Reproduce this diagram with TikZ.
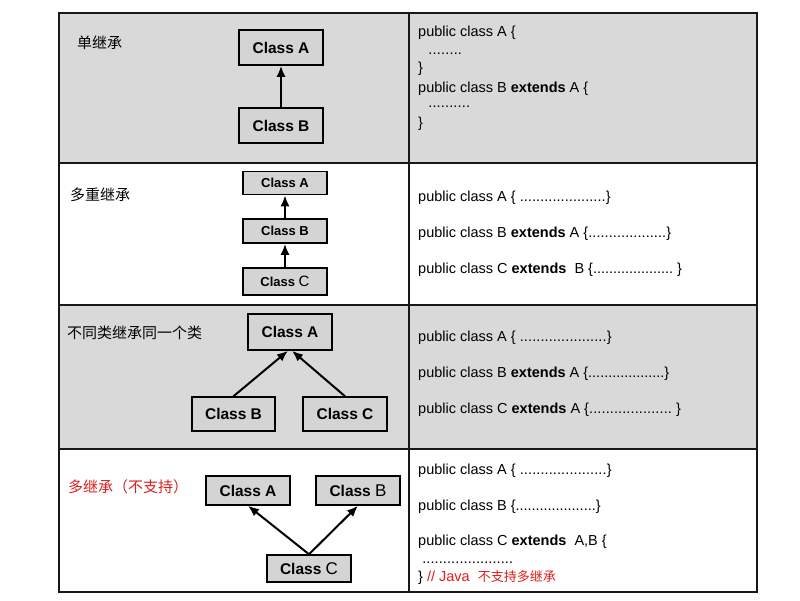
\documentclass[tikz,border=0pt]{standalone}
\usepackage{fontspec}
\setmainfont{Liberation Sans}
\newfontfamily\cjk{Noto Sans CJK SC}
\usetikzlibrary{arrows.meta}
\definecolor{bggray}{RGB}{217,217,217}
\definecolor{boxgray}{RGB}{212,212,212}
\definecolor{redtxt}{RGB}{222,30,30}
\definecolor{linecol}{RGB}{25,25,25}
\newcommand\dts[1]{\hbox to #1pt{\xleaders\hbox to 4pt{\hss.\hss}\hfill}}
\begin{document}
\begin{tikzpicture}[x=1pt,y=-1pt,
  grid/.style={draw=linecol,line width=2pt},
  cls/.style={draw=black,line width=1.5pt,fill=boxgray,inner sep=0pt,
    font=\fontsize{15.5}{17}\selectfont\bfseries},
  clssmall/.style={cls,font=\fontsize{13}{15}\selectfont\bfseries},
  code/.style={anchor=base west,inner sep=0pt,font=\fontsize{14.5}{17}\selectfont},
  lbl/.style={anchor=west,inner sep=0pt,font=\cjk\fontsize{15}{17}\selectfont},
  inh/.style={-{Latex[length=11pt,width=9pt]},line width=2pt,black}]
\useasboundingbox (0,0) rectangle (800,600);
\fill[white] (0,0) rectangle (800,600);
% row backgrounds
\fill[bggray] (59,13) rectangle (757,163);
\fill[bggray] (59,305) rectangle (757,449);
% grid
\draw[grid] (59,13) rectangle (757,592);
\draw[grid] (59,163) -- (757,163);
\draw[grid] (59,305) -- (757,305);
\draw[grid] (59,449) -- (757,449);
\draw[grid] (409,13) -- (409,592);

% ---- row 1
\node[lbl] (l1) at (77,43) {单继承};
\node[cls,minimum width=84pt,minimum height=35pt] (r1a) at (281,47.5) {Class A};
\node[cls,minimum width=84pt,minimum height=35pt] (r1b) at (281,125.5) {Class B};
\draw[inh] (r1b.north) -- (r1a.south);
\node[code] (c11) at (418,36) {public class A \{};
\node[code] (c12) at (428,54) {\dts{34}};
\node[code] (c13) at (418,72) {\}};
\node[code] (c14) at (418,92) {public class B \textbf{extends} A \{};
\node[code] (c15) at (428,107) {\dts{42}};
\node[code] (c16) at (418,127) {\}};

% ---- row 2
\node[lbl] (l2) at (70,195) {多重继承};
\node[clssmall,minimum width=84pt,minimum height=23pt] (r2a) at (285,183) {Class A};
\node[clssmall,minimum width=84pt,minimum height=24pt] (r2b) at (285,231) {Class B};
\node[clssmall,minimum width=84pt,minimum height=27pt] (r2c) at (285,281.5) {Class {\mdseries\fontsize{15}{17}\selectfont C}};
\draw[inh] (r2b.north) -- (r2a.south);
\draw[inh] (r2c.north) -- (r2b.south);
\node[code] (c21) at (418,201) {public class A \{ \dts{86}\}};
\node[code] (c22) at (418,237) {public class B \textbf{extends} A \{\dts{78}\}};
\node[code] (c23) at (418,273) {public class C \textbf{extends}\ \ B \{\dts{80} \}};

% ---- row 3
\node[lbl] (l3) at (67,333) {不同类继承同一个类};
\node[cls,minimum width=84pt,minimum height=36pt] (r3a) at (290,332) {Class A};
\node[cls,minimum width=83pt,minimum height=34pt] (r3b) at (233.5,414) {Class B};
\node[cls,minimum width=84pt,minimum height=34pt] (r3c) at (345,414) {Class C};
\draw[inh] (r3b.north) -- ([xshift=-2pt]r3a.south);
\draw[inh] (r3c.north) -- ([xshift=2pt]r3a.south);
\node[code] (c31) at (418,341) {public class A \{ \dts{87}\}};
\node[code] (c32) at (418,377) {public class B \textbf{extends} A \{\dts{76}\}};
\node[code] (c33) at (418,413) {public class C \textbf{extends} A \{\dts{83} \}};

% ---- row 4
\node[lbl,text=redtxt] (l4) at (68,487) {多继承（不支持）};
\node[cls,minimum width=84pt,minimum height=29pt] (r4a) at (248,490.5) {Class A};
\node[cls,minimum width=84pt,minimum height=29pt] (r4b) at (358,490.5) {Class {\mdseries\fontsize{17}{19}\selectfont B}};
\node[cls,minimum width=84pt,minimum height=27pt] (r4c) at (309,568.5) {Class {\mdseries\fontsize{17}{19}\selectfont C}};
\draw[inh] (r4c.north) -- (r4a.south);
\draw[inh] (r4c.north) -- (r4b.south);
\node[code] (c41) at (418,474) {public class A \{ \dts{87}\}};
\node[code] (c42) at (418,510) {public class B \{\dts{80}\}};
\node[code] (c43) at (418,545) {public class C \textbf{extends}\ \ A,B \{};
\node[code] (c44) at (422,563) {\dts{91}};
\node[code] (c45) at (418,581) {\} {\color{redtxt}// Java\ \ {\cjk\fontsize{13}{15}\selectfont 不支持多继承}}};
\end{tikzpicture}
\end{document}
